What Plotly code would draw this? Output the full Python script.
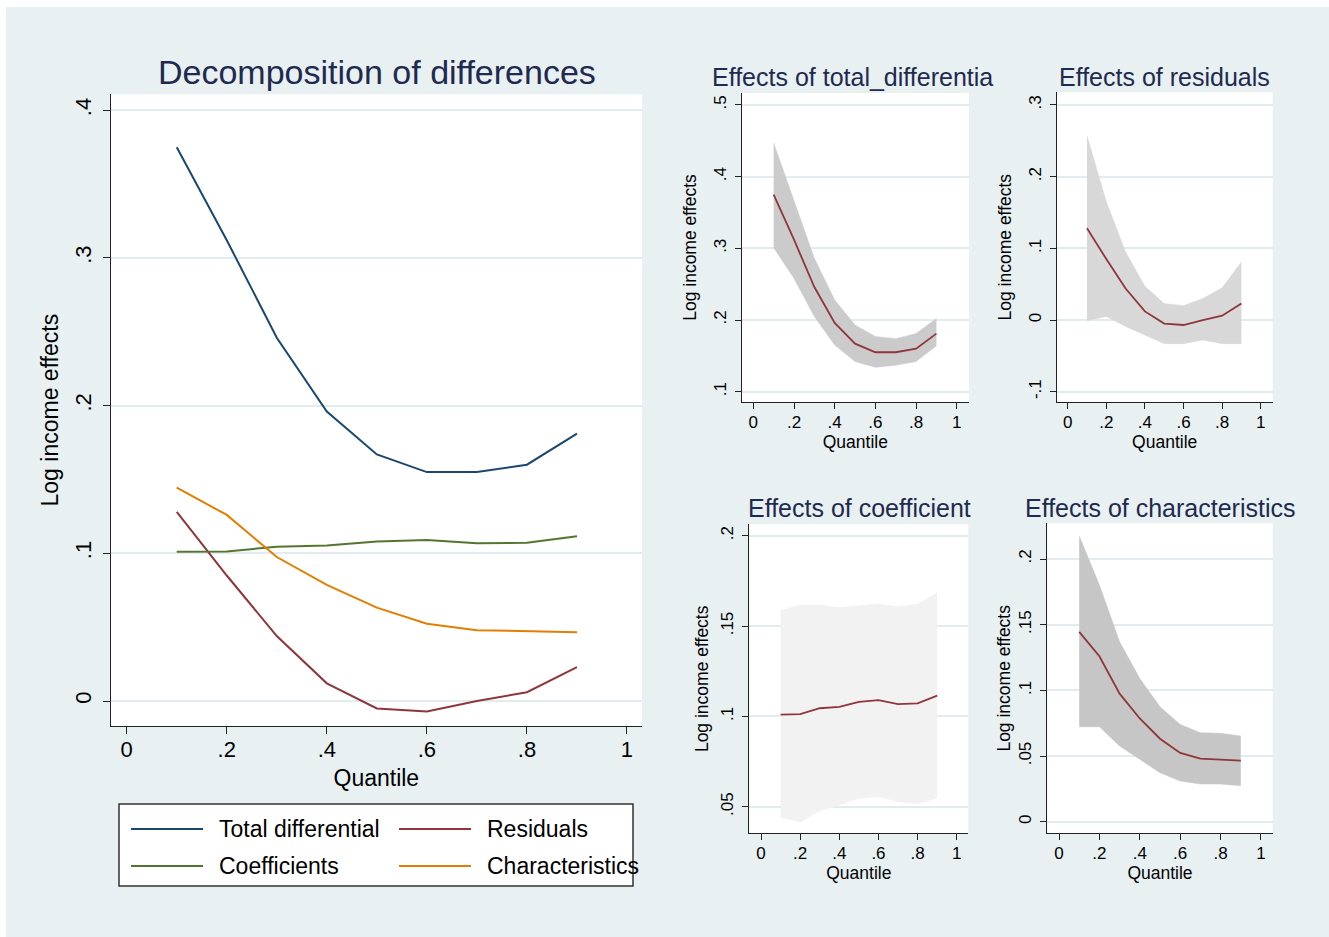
import plotly.graph_objects as go

W, H = 1329, 937

# ---------------- data ----------------
quantiles = [0.1, 0.2, 0.3, 0.4, 0.5, 0.6, 0.7, 0.8, 0.9]
total_diff = [0.375, 0.312, 0.246, 0.196, 0.167, 0.155, 0.155, 0.160, 0.181]
residuals = [0.128, 0.085, 0.044, 0.012, -0.005, -0.007, 0.000, 0.006, 0.023]
coefficients = [0.101, 0.1013, 0.1045, 0.1053, 0.108, 0.109, 0.1068, 0.1072, 0.1115]
characteristics = [0.1445, 0.126, 0.0975, 0.0786, 0.0632, 0.0524, 0.048, 0.0474, 0.0465]

total_lo = [0.301, 0.258, 0.205, 0.165, 0.142, 0.134, 0.137, 0.142, 0.164]
total_hi = [0.447, 0.365, 0.286, 0.228, 0.193, 0.177, 0.174, 0.181, 0.202]
resid_lo = [-0.001, 0.005, -0.009, -0.021, -0.033, -0.033, -0.028, -0.033, -0.033]
resid_hi = [0.257, 0.165, 0.095, 0.047, 0.023, 0.020, 0.030, 0.045, 0.081]
coef_lo = [0.0441, 0.0414, 0.0478, 0.0509, 0.0546, 0.0555, 0.0528, 0.0518, 0.0546]
coef_hi = [0.1588, 0.1616, 0.1616, 0.1603, 0.1612, 0.1622, 0.1607, 0.1622, 0.1684]
char_lo = [0.0723, 0.0723, 0.0576, 0.0475, 0.0373, 0.031, 0.0287, 0.0287, 0.0274]
char_hi = [0.2175, 0.1802, 0.137, 0.1091, 0.0876, 0.0741, 0.0678, 0.0673, 0.0652]

series_names = ["Total differential", "Residuals", "Coefficients", "Characteristics"]
series_values = [total_diff, residuals, coefficients, characteristics]
series_colors = ["#1a476f", "#90353b", "#55752f", "#e37e00"]

x_tickvals = [0, 0.2, 0.4, 0.6, 0.8, 1]
x_ticktext = ["0", ".2", ".4", ".6", ".8", "1"]
main_y_tickvals = [0, 0.1, 0.2, 0.3, 0.4]
main_y_ticktext = ["0", ".1", ".2", ".3", ".4"]

panel_titles = ["Effects of total_differentia", "Effects of residuals",
                "Effects of coefficient", "Effects of characteristics"]
panel_mid = [total_diff, residuals, coefficients, characteristics]
panel_lo = [total_lo, resid_lo, coef_lo, char_lo]
panel_hi = [total_hi, resid_hi, coef_hi, char_hi]
panel_fill = ["#cbcbcb", "#d8d8d8", "#f2f2f2", "#c6c6c6"]
panel_y_tickvals = [[0.1, 0.2, 0.3, 0.4, 0.5], [-0.1, 0, 0.1, 0.2, 0.3],
                    [0.05, 0.1, 0.15, 0.2], [0, 0.05, 0.1, 0.15, 0.2]]
panel_y_ticktext = [[".1", ".2", ".3", ".4", ".5"], ["-.1", "0", ".1", ".2", ".3"],
                    [".05", ".1", ".15", ".2"], ["0", ".05", ".1", ".15", ".2"]]
band_line_color = "#90353b"

# ---------------- layout geometry (pixels) ----------------
BG = "#e8f0f2"
GRID = "#e2ecef"
AXC = "#222222"
TITLE_C = "#1e2a4f"
FONT = "Liberation Sans, Arial, Helvetica, sans-serif"


def px_x(v):
    return v / W


def px_y(v):
    return 1 - v / H


# (left, right, top, bottom) in pixels, and x/y ranges
main_box = (110.7, 642, 94.3, 726)
main_xr = [-0.032, 1.030]
main_yr = [-0.0169, 0.4108]

panel_boxes = [(741.7, 969, 93, 402), (1056.7, 1272.7, 92.3, 402),
               (749.3, 968.3, 524.3, 833.3), (1047.3, 1272.7, 523.3, 833.3)]
panel_xr = [[-0.057, 1.06], [-0.057, 1.062], [-0.06, 1.059], [-0.058, 1.058]]
panel_yr = [[0.0856, 0.5167], [-0.1144, 0.3177], [0.0353, 0.2063], [-0.0088, 0.2272]]
panel_ytitle_standoff = [9, 9, 5, 1]

fig = go.Figure()

# main panel lines
for name, vals, col in zip(series_names, series_values, series_colors):
    fig.add_trace(go.Scatter(x=quantiles, y=vals, mode="lines", name=name,
                             line=dict(color=col, width=2), showlegend=False,
                             xaxis="x", yaxis="y"))

# small panels
for i in range(4):
    xa = "x%d" % (i + 2)
    ya = "y%d" % (i + 2)
    fig.add_trace(go.Scatter(x=quantiles, y=panel_lo[i], mode="lines",
                             line=dict(color=panel_fill[i], width=0.5),
                             showlegend=False, xaxis=xa, yaxis=ya))
    fig.add_trace(go.Scatter(x=quantiles, y=panel_hi[i], mode="lines",
                             line=dict(color=panel_fill[i], width=0.5),
                             fill="tonexty", fillcolor=panel_fill[i],
                             showlegend=False, xaxis=xa, yaxis=ya))
    fig.add_trace(go.Scatter(x=quantiles, y=panel_mid[i], mode="lines",
                             line=dict(color=band_line_color, width=1.8),
                             showlegend=False, xaxis=xa, yaxis=ya))


def axis_common(fs):
    return dict(showline=True, linecolor=AXC, linewidth=1.2, ticks="outside",
                tickcolor=AXC, tickwidth=1.2, zeroline=False,
                tickfont=dict(size=fs, color="#000000", family=FONT))


layout = dict(
    width=W, height=H, margin=dict(l=0, r=0, t=0, b=0),
    paper_bgcolor=BG, plot_bgcolor="#ffffff",
    font=dict(family=FONT, color="#000000"),
    showlegend=False,
)

# main axes
l, r, t, b = main_box
layout["xaxis"] = dict(domain=[px_x(l), px_x(r)], range=main_xr, anchor="y",
                       tickvals=x_tickvals, ticktext=x_ticktext, showgrid=False,
                       ticklen=7, ticklabelstandoff=-4,
                       title=dict(text="Quantile", font=dict(size=23), standoff=9),
                       **axis_common(22))
layout["yaxis"] = dict(domain=[px_y(b), px_y(t)], range=main_yr, anchor="x",
                       tickvals=main_y_tickvals, ticktext=main_y_ticktext,
                       tickangle=-90, showgrid=True, gridcolor=GRID, gridwidth=1.5,
                       ticklen=7, ticklabelstandoff=3,
                       title=dict(text="Log income effects", font=dict(size=23), standoff=5),
                       **axis_common(22))

for i in range(4):
    l, r, t, b = panel_boxes[i]
    n = i + 2
    layout["xaxis%d" % n] = dict(domain=[px_x(l), px_x(r)], range=panel_xr[i],
                                 anchor="y%d" % n, tickvals=x_tickvals,
                                 ticktext=x_ticktext, showgrid=False, ticklen=6,
                                 ticklabelstandoff=-2,
                                 title=dict(text="Quantile", font=dict(size=17.5), standoff=4),
                                 **axis_common(17))
    layout["yaxis%d" % n] = dict(domain=[px_y(b), px_y(t)], range=panel_yr[i],
                                 anchor="x%d" % n, tickvals=panel_y_tickvals[i],
                                 ticktext=panel_y_ticktext[i], tickangle=-90,
                                 showgrid=True, gridcolor=GRID, gridwidth=1.5,
                                 ticklen=6, ticklabelstandoff=2,
                                 title=dict(text="Log income effects", font=dict(size=17.5),
                                            standoff=panel_ytitle_standoff[i]),
                                 **axis_common(17))

fig.update_layout(**layout)

shapes = []
annotations = []
# white outer border strips (left and top)
shapes.append(dict(type="rect", xref="paper", yref="paper", x0=0, x1=px_x(6), y0=0, y1=1,
                   fillcolor="#ffffff", line=dict(width=0), layer="below"))
shapes.append(dict(type="rect", xref="paper", yref="paper", x0=0, x1=1, y0=px_y(7), y1=1,
                   fillcolor="#ffffff", line=dict(width=0), layer="below"))

# titles
annotations.append(dict(text="Decomposition of differences", xref="paper", yref="paper",
                        x=px_x(377), y=px_y(72), xanchor="center", yanchor="middle",
                        showarrow=False, font=dict(size=34, color=TITLE_C, family=FONT)))
title_pos = [(710, 77, "left"), (1164, 77, "center"), (746, 508, "left"), (1160, 508, "center")]
for txt, (tx, ty, anc) in zip(panel_titles, title_pos):
    annotations.append(dict(text=txt, xref="paper", yref="paper", x=px_x(tx), y=px_y(ty),
                            xanchor=anc, yanchor="middle", showarrow=False,
                            font=dict(size=25, color=TITLE_C, family=FONT)))

# legend box
shapes.append(dict(type="rect", xref="paper", yref="paper", x0=px_x(119), x1=px_x(633),
                   y0=px_y(886), y1=px_y(804), fillcolor="#ffffff",
                   line=dict(color="#333333", width=1.5), layer="above"))
leg_pos = [(131, 829), (399, 829), (131, 866), (399, 866)]
for name, col, (lx, ly) in zip(series_names, series_colors, leg_pos):
    shapes.append(dict(type="line", xref="paper", yref="paper", x0=px_x(lx), x1=px_x(lx + 72),
                       y0=px_y(ly), y1=px_y(ly), line=dict(color=col, width=2), layer="above"))
    annotations.append(dict(text=name, xref="paper", yref="paper", x=px_x(lx + 86), y=px_y(ly),
                            xanchor="left", yanchor="middle", showarrow=False,
                            font=dict(size=23, color="#000000", family=FONT)))

fig.update_layout(shapes=shapes, annotations=annotations)
fig.write_html("out.html", config={"displayModeBar": False},
               post_script="document.body.style.margin='0';document.body.style.overflow='hidden';")
